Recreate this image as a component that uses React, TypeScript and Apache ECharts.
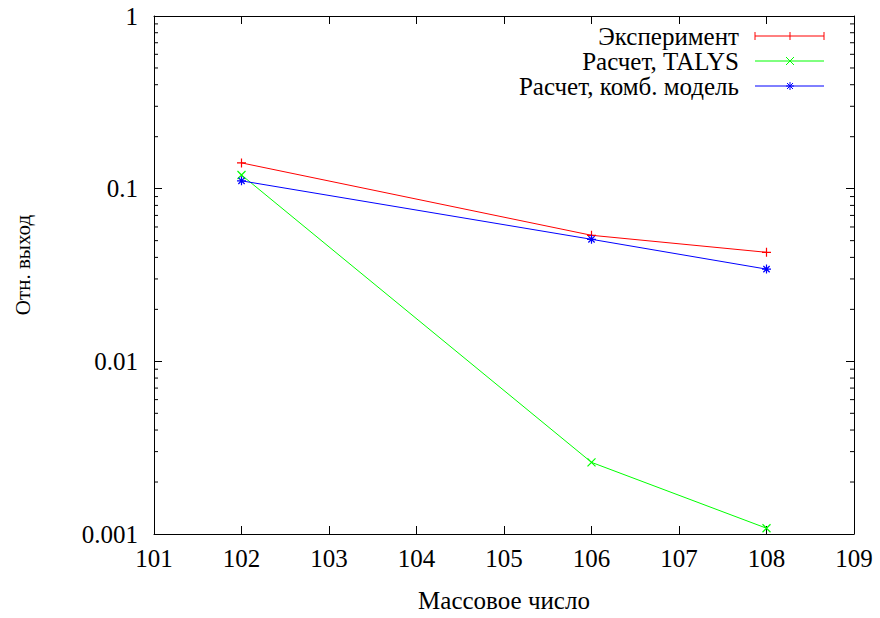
import React, { useEffect, useRef } from "react";
import * as echarts from "echarts";

const massNumbers = [102, 106, 108];
const experiment = [0.141, 0.0537, 0.0428];
const talys = [0.12, 0.0026, 0.00108];
const combModel = [0.111, 0.0509, 0.0342];
const seriesNames = ["Эксперимент", "Расчет, TALYS", "Расчет, комб. модель"];
const xTitle = "Массовое число";
const yTitle = "Отн. выход";
const minorTickValues: number[] = [];
for (const dec of [0.001, 0.01, 0.1]) {
  for (let k = 2; k <= 9; k++) minorTickValues.push(+(dec * k).toPrecision(3));
}

const FONT = "'Liberation Serif', 'Times New Roman', serif";
const FS = 25;
const RED = "#ff0000";
const GREEN = "#00ff00";
const BLUE = "#0000ff";

const PLUS = "path://M0,5L10,5M5,0L5,10";
const CROSS = "path://M0,0L10,10M0,10L10,0";
const STAR = "path://M0,5L10,5M5,0L5,10M1.5,1.5L8.5,8.5M1.5,8.5L8.5,1.5";

function pairs(vals: number[]) {
  return massNumbers.map((x, i) => [x, vals[i]]);
}

function legendRow(y: number, name: string, color: string, kind: string) {
  const x0 = 755, x1 = 824, cx = 790;
  const els: any[] = [
    { type: "line", shape: { x1: x0, y1: y, x2: x1, y2: y }, style: { stroke: color, lineWidth: 1 } },
    {
      type: "text",
      x: 739,
      y: y,
      style: { text: name, fontFamily: FONT, fontSize: FS, fill: "#000", align: "right", verticalAlign: "middle" },
    },
  ];
  const s = 4;
  if (kind === "plus" || kind === "star") {
    els.push({ type: "line", shape: { x1: cx, y1: y - s, x2: cx, y2: y + s }, style: { stroke: color, lineWidth: 1 } });
  }
  if (kind === "cross" || kind === "star") {
    const d = kind === "star" ? 3 : 4;
    els.push({ type: "line", shape: { x1: cx - d, y1: y - d, x2: cx + d, y2: y + d }, style: { stroke: color, lineWidth: 1 } });
    els.push({ type: "line", shape: { x1: cx - d, y1: y + d, x2: cx + d, y2: y - d }, style: { stroke: color, lineWidth: 1 } });
  }
  if (kind === "star") {
    els.push({ type: "line", shape: { x1: cx - s, y1: y, x2: cx + s, y2: y }, style: { stroke: color, lineWidth: 1 } });
  }
  if (kind === "plus") {
    els.push({ type: "line", shape: { x1: x0, y1: y - 4, x2: x0, y2: y + 4 }, style: { stroke: color, lineWidth: 1 } });
    els.push({ type: "line", shape: { x1: x1, y1: y - 4, x2: x1, y2: y + 4 }, style: { stroke: color, lineWidth: 1 } });
  }
  return els;
}

export default function App() {
  const ref = useRef<HTMLDivElement>(null);
  useEffect(() => {
    if (!ref.current) return;
    const chart = echarts.init(ref.current, null, { renderer: "svg" });
    const axisLine = { show: true, lineStyle: { color: "#000", width: 1 } };
    const labelStyle = { color: "#000", fontFamily: FONT, fontSize: FS };
    chart.setOption({
      animation: false,
      backgroundColor: "#fff",
      textStyle: { fontFamily: FONT },
      grid: { left: 154, right: 26, top: 16, bottom: 80 },
      xAxis: [
        {
          type: "value",
          min: 101,
          max: 109,
          interval: 1,
          position: "bottom",
          axisLine,
          axisTick: { show: true, inside: true, length: 8, lineStyle: { color: "#000" } },
          axisLabel: { ...labelStyle, margin: 12 },
          splitLine: { show: false },
          name: xTitle,
          nameLocation: "middle",
          nameGap: 54,
          nameTextStyle: { ...labelStyle },
        },
        {
          type: "value",
          min: 101,
          max: 109,
          interval: 1,
          position: "top",
          axisLine,
          axisTick: { show: true, inside: true, length: 8, lineStyle: { color: "#000" } },
          axisLabel: { show: false },
          splitLine: { show: false },
        },
      ],
      yAxis: [
        {
          type: "log",
          logBase: 10,
          min: 0.001,
          max: 1,
          position: "left",
          axisLine,
          axisTick: { show: true, inside: true, length: 8, lineStyle: { color: "#000" } },
          axisLabel: {
            ...labelStyle,
            margin: 16,
            formatter: (v: number) => String(+v.toPrecision(3)),
          },
          splitLine: { show: false },
        },
        {
          type: "log",
          logBase: 10,
          min: 0.001,
          max: 1,
          position: "right",
          axisLine,
          axisTick: { show: true, inside: true, length: 8, lineStyle: { color: "#000" } },
          axisLabel: { show: false },
          splitLine: { show: false },
        },
      ],
      graphic: [
        {
          type: "text",
          x: 23,
          y: 265,
          rotation: Math.PI / 2,
          style: { text: yTitle, fontFamily: FONT, fontSize: 21, fill: "#000", align: "center", verticalAlign: "middle" },
        },
        ...legendRow(36, seriesNames[0], RED, "plus"),
        ...legendRow(61, seriesNames[1], GREEN, "cross"),
        ...legendRow(86, seriesNames[2], BLUE, "star"),
      ],
      series: [
        {
          type: "custom",
          xAxisIndex: 0,
          yAxisIndex: 0,
          silent: true,
          data: minorTickValues.map((v) => [101, v]),
          renderItem: (params: any, api: any) => {
            const v = api.value(1);
            const l = api.coord([101, v]);
            const r = api.coord([109, v]);
            return {
              type: "group",
              children: [
                { type: "line", shape: { x1: l[0], y1: l[1], x2: l[0] + 4, y2: l[1] }, style: { stroke: "#000", lineWidth: 1 } },
                { type: "line", shape: { x1: r[0], y1: r[1], x2: r[0] - 4, y2: r[1] }, style: { stroke: "#000", lineWidth: 1 } },
              ],
            };
          },
        },
        {
          name: seriesNames[0],
          type: "line",
          data: pairs(experiment),
          symbol: PLUS,
          symbolSize: 9,
          lineStyle: { color: RED, width: 1 },
          itemStyle: { color: RED, borderColor: RED, borderWidth: 1.2 },
        },
        {
          name: seriesNames[1],
          type: "line",
          data: pairs(talys),
          symbol: CROSS,
          symbolSize: 8,
          lineStyle: { color: GREEN, width: 1 },
          itemStyle: { color: GREEN, borderColor: GREEN, borderWidth: 1.2 },
        },
        {
          name: seriesNames[2],
          type: "line",
          data: pairs(combModel),
          symbol: STAR,
          symbolSize: 9,
          lineStyle: { color: BLUE, width: 1 },
          itemStyle: { color: BLUE, borderColor: BLUE, borderWidth: 1.2 },
        },
      ],
    });
    return () => chart.dispose();
  }, []);
  return <div ref={ref} style={{ width: 880, height: 618, position: "absolute", left: 0, top: 0 }} />;
}
